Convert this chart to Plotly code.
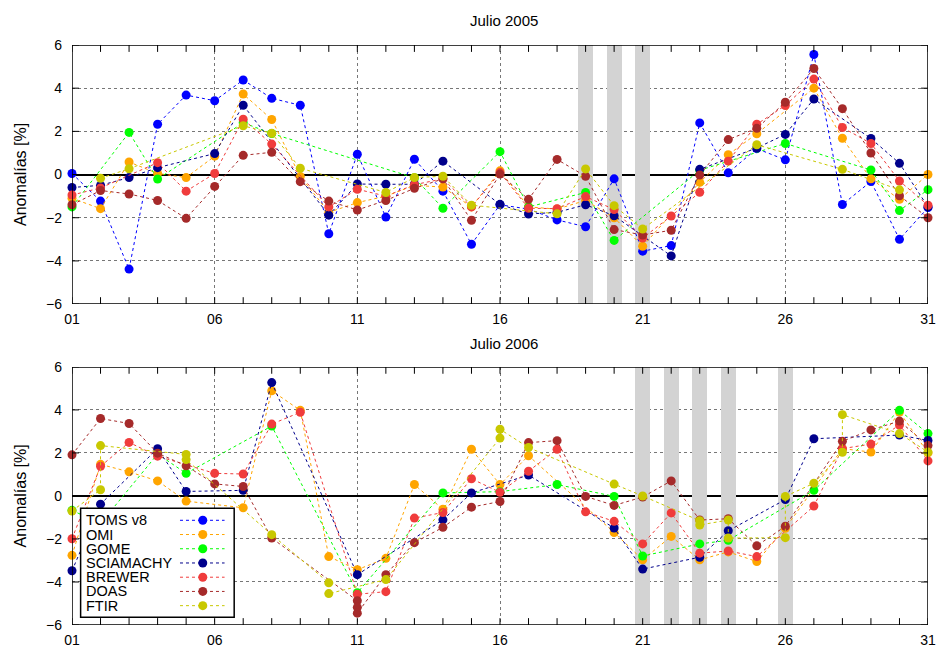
import plotly.graph_objects as go

# ---------------- data ----------------
days = list(range(1, 32))
tick_first, tick_step = 1, 5          # labelled days 01, 06, 11, ... 31
y_ticks = [-6, -4, -2, 0, 2, 4, 6]

series_names = ["TOMS v8", "OMI", "GOME", "SCIAMACHY", "BREWER", "DOAS", "FTIR"]
series_colors = ["#0000ff", "#ffa500", "#00ff00", "#00008b", "#f03c3c", "#a52a2a", "#c8c800"]

N = None
# ---- Julio 2005 (index 0 = day 01) ----
toms_2005 = [0.05, -1.23, -4.38, 2.33, 3.68, 3.42, 4.38, 3.53, 3.21, -2.74, 0.94, -1.97, 0.71, -0.77, -3.23,
             -1.4, -1.6, -2.1, -2.42, -0.2, -3.55, -3.29, 2.39, 0.08, 1.2, 0.68, 5.56, -1.39, -0.32, -3.0, -1.53]
omi_2005 = [-1.1, -1.58, 0.58, 0.05, -0.14, 0.85, 3.73, 2.55, -0.09, -1.75, -1.3, -1.0, -0.5, -0.58, -1.5,
            0.17, -1.5, -1.6, -1.2, -2.0, -3.32, N, -0.36, 0.92, 1.89, N, 4.0, 1.68, -0.2, -1.15, 0.0]
gome_2005 = [-1.5, N, 1.95, -0.21, N, N, 2.4, 1.9, N, N, N, N, -0.15, -1.56, N,
             1.06, -1.5, N, -0.83, -3.05, N, N, 0.2, N, N, 1.44, N, N, 0.21, -1.67, -0.7]
scia_2005 = [-0.6, -0.5, -0.14, 0.32, N, 0.97, 3.21, N, N, -1.88, -0.44, -0.45, -0.45, 0.62, N,
             -1.38, -1.83, -1.75, -1.4, -1.91, N, -3.77, 0.24, N, 1.23, 1.86, 3.5, N, 1.67, 0.52, -1.5]
brewer_2005 = [-0.95, -0.62, N, 0.55, -0.77, 0.05, 2.56, 1.41, N, -1.5, -0.68, -1.0, -0.47, -0.2, -1.5,
               0.09, -1.56, -1.58, -1.02, -1.62, -2.94, -1.92, -0.82, 0.62, 2.33, 3.2, 4.42, 2.18, 1.44, -0.3, -1.42]
doas_2005 = [-1.4, -0.74, -0.9, -1.2, -2.03, -0.55, 0.89, 1.03, -0.33, -1.23, -1.64, -1.2, -0.64, -0.2, -2.12,
             0.02, -1.15, 0.7, -0.08, -2.55, -2.8, -2.58, -0.02, 1.62, 2.14, 3.35, 4.91, 3.05, 1.0, -0.98, -2.0]
ftir_2005 = [N, -0.17, 0.27, N, N, N, 2.26, 1.91, 0.29, N, N, -0.83, -0.14, -0.08, -1.42,
             N, N, -1.82, 0.26, -1.44, -2.52, N, N, N, 1.38, N, N, 0.24, N, -0.71, N]

# ---- Julio 2006 ----
toms_2006 = [N] * 31
omi_2006 = [-2.76, 1.47, 1.12, 0.7, -0.24, N, -0.55, 4.89, 3.98, -2.82, -3.43, -2.9, 0.53, -0.62, 2.17,
            0.53, 1.87, N, N, -1.7, -2.97, -1.88, -2.97, -2.6, -3.05, -1.5, N, 2.2, 2.04, 3.9, 2.0]
gome_2006 = [-0.67, -1.28, N, 1.95, 1.05, N, N, 3.25, N, N, -4.5, N, N, 0.14, N,
             0.2, N, 0.53, N, -0.02, -2.79, N, -2.23, -2.06, N, N, 0.26, N, N, 3.98, 2.9]
scia_2006 = [-3.48, -0.38, N, 2.2, 0.21, N, 0.26, 5.27, N, N, -3.66, N, N, -1.11, 0.14,
             N, 0.97, N, N, -1.49, -3.4, N, -2.85, -1.62, N, -0.17, 2.66, N, N, 2.83, 2.58]
brewer_2006 = [-1.99, 1.38, 2.49, 1.85, N, 1.05, 1.02, 3.34, 3.89, N, -4.57, -4.45, -1.03, -0.77, 0.8,
               0.17, 1.15, 2.17, -0.74, -1.18, -2.23, -0.79, -2.66, -2.56, -2.82, N, -0.47, 2.2, 2.41, 3.3, 1.63]
doas_2006_days = [1, 2, 3, 4, 5, 6, 7, 8, 11, 11, 11, 12, 13, 14, 15, 16, 17, 18, 19, 20, 21, 22, 23, 24,
                  25, 26, 28, 29, 30, 31]
doas_2006 = [1.91, 3.6, 3.37, 1.99, 1.4, 0.56, 0.44, -1.96, -4.87, -5.18, -5.45, -3.66, -2.17, -1.46, -0.52,
             -0.26, 2.48, 2.57, -0.02, -0.44, -0.05, 0.70, -1.12, -1.06, -2.32, -1.41, 2.54, 3.07, 3.48, 2.34]
ftir_2006_days = [1, 2, 2, 5, 5, 8, 10, 10, 12, 16, 16, 17, 20, 21, 23, 23, 24, 24, 26, 26, 27, 28, 28, 30, 31]
ftir_2006 = [-0.7, 0.29, 2.34, 1.93, 1.69, -1.8, -4.04, -4.54, -3.89, 2.69, 3.1, 2.25, 0.55, 0.0, -1.15,
             -1.35, -1.12, -1.96, -1.94, -0.02, 0.59, 2.03, 3.78, 2.9, 2.04]

bands_2005 = [19, 20, 21]
bands_2006 = [21, 22, 23, 24, 26]

panel_2005 = [(days, toms_2005), (days, omi_2005), (days, gome_2005), (days, scia_2005),
              (days, brewer_2005), (days, doas_2005), (days, ftir_2005)]
panel_2006 = [(days, toms_2006), (days, omi_2006), (days, gome_2006), (days, scia_2006),
              (days, brewer_2006), (doas_2006_days, doas_2006), (ftir_2006_days, ftir_2006)]

# ---------------- figure ----------------
FONT = "Liberation Sans, Arial, sans-serif"
W, H = 945, 657
ML, MR, MT, MB = 72, 9, 45, 21
PW, PH = W - ML - MR, H - MT - MB
TOP_Y0 = (H - MB - 309) / PH
BOT_Y1 = (H - MB - 373) / PH
Y_MIN, Y_MAX = -6, 6
X_MIN, X_MAX = 1, 31
TICK_PX = 7
PANEL_H_PX = (H - MB) - 373            # both panels are ~263 px tall
TY = TICK_PX * (Y_MAX - Y_MIN) / PANEL_H_PX   # tick length in y data units
TX = TICK_PX * (X_MAX - X_MIN) / PW           # tick length in x data units

fig = go.Figure()
for panel, bands, (xa, ya) in ((panel_2005, bands_2005, ("x", "y")), (panel_2006, bands_2006, ("x2", "y2"))):
    # grey shaded days, drawn as full-height bars under the data
    fig.add_trace(go.Bar(x=bands, y=[Y_MAX - Y_MIN] * len(bands), base=Y_MIN, width=0.52,
                         xaxis=xa, yaxis=ya, marker=dict(color="#d3d3d3", line=dict(width=0)),
                         showlegend=False, hoverinfo="skip"))
    for (xs, ys), name, col in zip(panel, series_names, series_colors):
        fig.add_trace(go.Scatter(
            x=xs, y=ys, name=name, xaxis=xa, yaxis=ya, mode="lines+markers",
            connectgaps=True, cliponaxis=False, showlegend=False,
            line=dict(color=col, width=1, dash="3px,3px"),
            marker=dict(color=col, size=9, line=dict(width=0)),
        ))
    # inside tick marks on all four sides, built from the tick positions
    tx, ty = [], []
    for d in days:
        tx += [d, d, None, d, d, None]
        ty += [Y_MIN, Y_MIN + TY, None, Y_MAX, Y_MAX - TY, None]
    for v in y_ticks:
        tx += [X_MIN, X_MIN + TX, None, X_MAX, X_MAX - TX, None]
        ty += [v, v, None, v, v, None]
    fig.add_trace(go.Scatter(x=tx, y=ty, xaxis=xa, yaxis=ya, mode="lines", cliponaxis=False,
                             line=dict(color="black", width=1), showlegend=False, hoverinfo="skip",
                             connectgaps=False))
    # frame along the axis range
    fig.add_trace(go.Scatter(x=[X_MIN, X_MAX, X_MAX, X_MIN, X_MIN], y=[Y_MIN, Y_MIN, Y_MAX, Y_MAX, Y_MIN],
                             xaxis=xa, yaxis=ya, mode="lines", cliponaxis=False,
                             line=dict(color="black", width=1.5), showlegend=False, hoverinfo="skip"))

axis_common = dict(showline=False, ticks="", tickfont=dict(family=FONT, size=14, color="black"))
xcommon = dict(axis_common, range=[X_MIN, X_MAX], tickmode="linear", tick0=tick_first, dtick=tick_step,
               tickformat="02d", ticklabelstandoff=5,
               showgrid=True, gridcolor="#777777", griddash="dot", gridwidth=1, zeroline=False)
ycommon = dict(axis_common, range=[Y_MIN, Y_MAX], tickmode="array", tickvals=y_ticks,
               showgrid=True, gridcolor="#777777", griddash="dot", gridwidth=1,
               zeroline=True, zerolinecolor="black", zerolinewidth=1.5, ticklabelstandoff=9)

fig.update_layout(
    width=W, height=H, margin=dict(l=ML, r=MR, t=MT, b=MB),
    paper_bgcolor="white", plot_bgcolor="white",
    font=dict(family=FONT, size=14, color="black"),
    xaxis=dict(xcommon, anchor="y", domain=[0, 1]),
    yaxis=dict(ycommon, anchor="x", domain=[TOP_Y0, 1]),
    xaxis2=dict(xcommon, anchor="y2", domain=[0, 1]),
    yaxis2=dict(ycommon, anchor="x2", domain=[0, BOT_Y1]),
    showlegend=False, bargap=0,
)

shapes = []
annotations = []
panels = (("Julio 2005", "x", "y", 14), ("Julio 2006", "x2", "y2", 13))
for title, xa, ya, ys in panels:
    xr, yr = xa + " domain", ya + " domain"
    annotations.append(dict(text=title, xref=xr, yref=yr, x=0.505, y=1, yanchor="bottom", yshift=ys,
                            showarrow=False, font=dict(family=FONT, size=15, color="black")))
    annotations.append(dict(text="Anomalías [%]", xref="paper", yref=yr, x=(20 - ML) / PW, y=0.5,
                            textangle=-90, showarrow=False, xanchor="center", yanchor="middle",
                            font=dict(family=FONT, size=16, color="black")))

# custom key box (bottom panel), entries laid out from the series lists
BOT_H = (H - MB) - 373
def dx(px):
    return (px - ML) / PW
def dy(py):
    return ((H - MB) - py) / BOT_H

shapes.append(dict(type="rect", xref="x2 domain", yref="y2 domain", x0=dx(80.7), x1=dx(235.7),
                   y0=dy(628), y1=dy(517), fillcolor="white", line=dict(color="black", width=1.5),
                   layer="above"))
row0, row_step = 529.3, 14.5
for i, (name, col) in enumerate(zip(series_names, series_colors)):
    yc = row0 + i * row_step
    annotations.append(dict(text=name, xref="x2 domain", yref="y2 domain", x=dx(84), y=dy(yc),
                            xanchor="left", yanchor="middle", showarrow=False,
                            font=dict(family=FONT, size=14.5, color="black")))
    shapes.append(dict(type="line", xref="x2 domain", yref="y2 domain", x0=dx(181), x1=dx(226),
                       y0=dy(yc), y1=dy(yc), line=dict(color=col, width=1, dash="3px,3px"), layer="above"))
    shapes.append(dict(type="circle", xref="x2 domain", yref="y2 domain", xsizemode="pixel",
                       ysizemode="pixel", xanchor=dx(204), yanchor=dy(yc), x0=-4.5, x1=4.5, y0=-4.5, y1=4.5,
                       fillcolor=col, line=dict(width=0), layer="above"))

fig.update_layout(shapes=shapes, annotations=annotations)
fig.write_html("out.html", config={"displayModeBar": False},
               post_script="document.body.style.margin='0px';")
